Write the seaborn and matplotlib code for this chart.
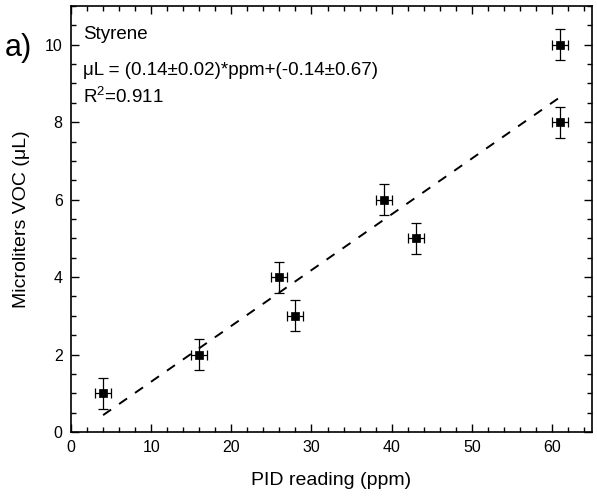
import numpy as np
import pandas as pd
import matplotlib
matplotlib.use('Agg')
import matplotlib.pyplot as plt
from matplotlib.ticker import MultipleLocator
import seaborn as sns

# Styrene calibration data
ppm = [4, 16, 26, 28, 39, 43, 61, 61]
microliters = [1, 2, 4, 3, 6, 5, 8, 10]
ppm_err = [1, 1, 1, 1, 1, 1, 1, 1]
ul_err = [0.4, 0.4, 0.4, 0.4, 0.4, 0.4, 0.4, 0.4]

# Linear fit line drawn across the data range
fit_x = [4, 61]
fit_slope = 0.144
fit_intercept = -0.14

df = pd.DataFrame({'ppm': ppm, 'uL': microliters})
fit_df = pd.DataFrame({'ppm': fit_x})
fit_df['uL'] = fit_slope * fit_df['ppm'] + fit_intercept

sns.set_style('ticks')
plt.rcParams['font.family'] = ['Liberation Sans', 'DejaVu Sans']
plt.rcParams['mathtext.fontset'] = 'custom'
plt.rcParams['mathtext.rm'] = 'Liberation Sans'
for key in ['text.color', 'axes.labelcolor', 'xtick.color', 'ytick.color', 'axes.edgecolor']:
    plt.rcParams[key] = 'black'

fig = plt.figure(figsize=(5.97, 4.98), dpi=100)
ax = fig.add_axes([0.119, 0.1325, 0.8726, 0.8555])

sns.lineplot(data=fit_df, x='ppm', y='uL', ax=ax, color='black',
             linestyle=(0, (5, 5)), linewidth=1.4, zorder=2)
ax.errorbar(ppm, microliters, xerr=ppm_err, yerr=ul_err, fmt='none',
            ecolor='black', elinewidth=0.9, capsize=3.5, capthick=0.9, zorder=3)
sns.scatterplot(data=df, x='ppm', y='uL', ax=ax, marker='s', s=40,
                color='black', edgecolor='black', zorder=4)

ax.set_xlim(0, 65)
ax.set_ylim(0, 11)
ax.xaxis.set_major_locator(MultipleLocator(10))
ax.xaxis.set_minor_locator(MultipleLocator(2))
ax.yaxis.set_major_locator(MultipleLocator(2))
ax.yaxis.set_minor_locator(MultipleLocator(0.5))
ax.tick_params(which='both', direction='in', top=True, right=True,
               labeltop=False, labelright=False, color='black', width=1)
ax.tick_params(which='major', length=6, labelsize=11.5, pad=6)
ax.tick_params(which='minor', length=3.5)
for sp in ax.spines.values():
    sp.set_linewidth(1.2)
    sp.set_color('black')

ax.set_xlabel('PID reading (ppm)', fontsize=14, labelpad=12)
ax.set_ylabel('Microliters VOC (μL)', fontsize=14, labelpad=11)

ax.text(0.023, 0.922, 'Styrene', transform=ax.transAxes, fontsize=13.5)
ax.text(0.023, 0.838, 'μL = (0.14±0.02)*ppm+(-0.14±0.67)',
        transform=ax.transAxes, fontsize=13.5)
ax.text(0.023, 0.772, 'R$^2$=0.911', transform=ax.transAxes, fontsize=13.5)
fig.text(0.008, 0.888, 'a)', fontsize=22)

fig.savefig('out.png', dpi=100)
